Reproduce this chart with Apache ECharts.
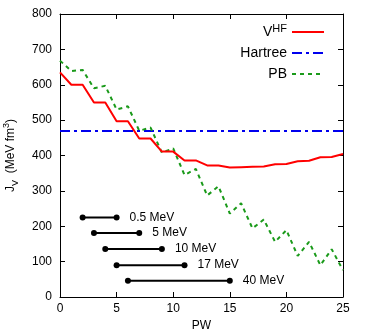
<!DOCTYPE html>
<html>
<head>
<meta charset="utf-8">
<script src="https://cdn.jsdelivr.net/npm/echarts@6/dist/echarts.min.js"></script>
<style>
html,body{margin:0;padding:0;background:#fff;}
#chart{width:369px;height:332px;}
</style>
</head>
<body>
<div id="chart"></div>
<script>
// ---- data ----
const pw = [0,1,2,3,4,5,6,7,8,9,10,11,12,13,14,15,16,17,18,19,20,21,22,23,24,25];
const vhf = [635,600,600,550,550,497,497,448,448,411,411,386,386,372,372,366,367,368,369,375,376,384,385,395,396,404];
const pb = [668,639,642,590,597,530,539,470,479,408,420,345,362,287,313,236,265,194,219,156,189,116,156,90,135,76];
const hartreeX = [0,25];
const hartreeY = [469,469];
const barLabels = ['0.5 MeV','5 MeV','10 MeV','17 MeV','40 MeV'];
const barStart = [2,3,4,5,6];
const barEnd = [5,7,9,11,15];
const barY = [225,181,136,90,46];

const FONT = '"Liberation Sans", Arial, Helvetica, sans-serif';
const chart = echarts.init(document.getElementById('chart'), null, {renderer:'canvas'});

const series = [
  {
    name: 'VHF', type: 'line', symbol: 'none',
    data: pw.map((x,i)=>[x, vhf[i]]),
    lineStyle: {color:'#ff0000', width:2}, itemStyle:{color:'#ff0000'}, z:4
  },
  {
    name: 'Hartree', type: 'line', symbol: 'none',
    data: hartreeX.map((x,i)=>[x, hartreeY[i]]),
    lineStyle: {color:'#0000ee', width:2, type:[10,4,3,4]}, itemStyle:{color:'#0000ee'}, z:3
  },
  {
    name: 'PB', type: 'line', symbol: 'none',
    data: pw.map((x,i)=>[x, pb[i]]),
    lineStyle: {color:'#1a9a1a', width:2, type:[4,4]}, itemStyle:{color:'#1a9a1a'}, z:3
  }
];
barLabels.forEach((lab,i)=>{
  series.push({
    name: 'bar'+i, type:'line', symbol:'circle', symbolSize:6,
    data: [
      {value:[barStart[i], barY[i]]},
      {value:[barEnd[i], barY[i]], label:{show:true, position:'right', distance:10, formatter: lab, color:'#000', fontSize:12, fontFamily:FONT}}
    ],
    lineStyle:{color:'#000', width:2}, itemStyle:{color:'#000'}, z:5, silent:true
  });
});

const axisCommon = {
  type:'value', min:0,
  axisLine:{show:true, onZero:false, lineStyle:{color:'#000', width:1}},
  axisTick:{show:true, inside:true, length:5, lineStyle:{color:'#000', width:1}},
  splitLine:{show:false}
};

chart.setOption({
  animation:false,
  backgroundColor:'#fff',
  textStyle:{fontFamily:FONT},
  grid:{left:60, right:26, top:14, bottom:35, containLabel:false, outerBoundsMode:'none'},
  legend:{
    data:['VHF','Hartree','PB'],
    orient:'vertical', align:'right', right:39, top:18,
    itemWidth:32, itemHeight:14, itemGap:7,
    itemStyle:{opacity:0, color:'transparent', borderWidth:0},
    textStyle:{fontSize:14, color:'#000', fontFamily:FONT,
      rich:{a:{fontSize:14, fontFamily:FONT, color:'#000', lineHeight:18}, p:{fontSize:11, fontFamily:FONT, color:'#000', verticalAlign:'top'}}},
    formatter: n => n==='VHF' ? '{a|V}{p|HF}' : n,
    selectedMode:false
  },
  xAxis:[
    Object.assign({}, axisCommon, {max:25, interval:5, position:'bottom',
      name:'PW', nameLocation:'middle', nameGap:23,
      nameTextStyle:{fontSize:12, color:'#000', fontFamily:FONT},
      axisLabel:{show:true, color:'#000', fontSize:12, margin:6, fontFamily:FONT}}),
    Object.assign({}, axisCommon, {max:25, interval:5, position:'top', axisLabel:{show:false}})
  ],
  yAxis:[
    Object.assign({}, axisCommon, {max:800, interval:100, position:'left',
      name:'{a|J}{s|V}{a|  (MeV fm}{p|3}{a|)}', nameLocation:'middle', nameGap:40, nameRotate:90,
      nameTextStyle:{color:'#000', fontFamily:FONT,
        rich:{a:{fontSize:12, lineHeight:18, fontFamily:FONT, color:'#000'},
              s:{fontSize:9, verticalAlign:'bottom', fontFamily:FONT, color:'#000'},
              p:{fontSize:9, verticalAlign:'top', fontFamily:FONT, color:'#000'}}},
      axisLabel:{show:true, color:'#000', fontSize:12, margin:8, fontFamily:FONT}}),
    Object.assign({}, axisCommon, {max:800, interval:100, position:'right', axisLabel:{show:false}})
  ],
  series: series
});
</script>
</body>
</html>
